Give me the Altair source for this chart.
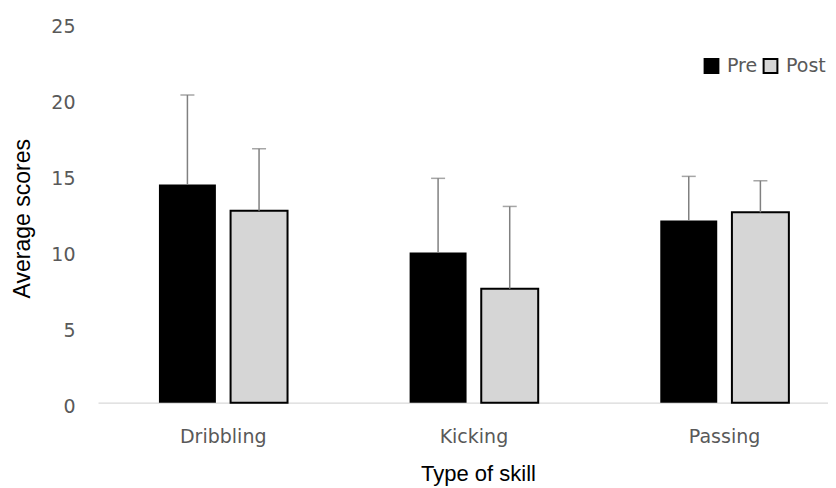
import altair as alt
import pandas as pd

# ---- data ----
skills = ["Dribbling", "Kicking", "Passing"]
groups = ["Pre", "Post"]
pre_means = [14.38, 9.90, 12.01]
post_means = [12.65, 7.51, 12.54]
pre_upper = [20.27, 14.78, 14.91]   # top of error bar (mean + SD)
post_upper = [16.73, 12.93, 14.62]
y_ticks = [0, 5, 10, 15, 20, 25]

rows = []
for i, s in enumerate(skills):
    rows.append({"skill": s, "group": "Pre", "mean": pre_means[i], "upper": pre_upper[i]})
    rows.append({"skill": s, "group": "Post", "mean": post_means[i], "upper": post_upper[i]})
df = pd.DataFrame(rows)

LABEL_FONT = "DejaVu Sans"
TITLE_FONT = "Liberation Sans"
LABEL_COLOR = "#595959"

x_enc = alt.X(
    "skill:N",
    sort=skills,
    scale=alt.Scale(paddingInner=0.487, paddingOuter=0.1996, align=0.609),
    axis=alt.Axis(
        title="Type of skill",
        titleFont=TITLE_FONT, titleFontSize=22, titleColor="black", titleFontWeight="normal",
        titleX=380, titleY=78, titleBaseline="alphabetic", titleAnchor="start", titleAlign="center",
        labelFont=LABEL_FONT, labelFontSize=19, labelColor=LABEL_COLOR,
        labelAngle=0, labelBaseline="alphabetic", labelPadding=40,
        ticks=False, tickSize=0, domainColor="#d9d9d9", domainWidth=1.3, grid=False,
    ),
)
xo_enc = alt.XOffset("group:N", sort=groups,
                     scale=alt.Scale(paddingInner=0.205, paddingOuter=0))
y_scale = alt.Scale(domain=[0, 25], nice=False)

bars = alt.Chart(df).mark_bar(stroke="black").encode(
    x=x_enc,
    xOffset=xo_enc,
    y=alt.Y(
        "mean:Q",
        scale=y_scale,
        axis=alt.Axis(
            title="Average scores", values=y_ticks,
            titleFont=TITLE_FONT, titleFontSize=23, titleColor="black", titleFontWeight="normal",
            titleX=-68.5, titleY=195, titleBaseline="alphabetic", titleAngle=-90, titleAlign="center",
            titleAnchor="start",
            labelFont=LABEL_FONT, labelFontSize=19, labelColor=LABEL_COLOR,
            labelPadding=23, labelOffset=3.5,
            domain=False, ticks=False, tickSize=0, grid=False,
        ),
    ),
    fill=alt.Fill(
        "group:N",
        sort=groups,
        scale=alt.Scale(domain=groups, range=["black", "#d6d6d6"]),
        legend=alt.Legend(
            title=None, orient="none", legendX=604, legendY=33, direction="horizontal",
            gridAlign="each",
            symbolType="square", symbolSize=190, symbolStrokeColor="black", symbolStrokeWidth=2,
            labelFont=LABEL_FONT, labelFontSize=19, labelColor=LABEL_COLOR,
            labelOffset=6, columnPadding=1, padding=0,
        ),
    ),
    strokeWidth=alt.condition(alt.datum.group == "Post", alt.value(2), alt.value(0)),
)

err = alt.Chart(df).mark_rule(color="#808080", strokeWidth=1.5).encode(
    x=alt.X("skill:N", sort=skills),
    xOffset=alt.XOffset("group:N", sort=groups),
    y=alt.Y("mean:Q", scale=y_scale),
    y2="upper:Q",
)

caps = alt.Chart(df).mark_tick(color="#808080", thickness=1.5, size=14).encode(
    x=alt.X("skill:N", sort=skills),
    xOffset=alt.XOffset("group:N", sort=groups),
    y=alt.Y("upper:Q", scale=y_scale),
)

chart = alt.layer(bars, err, caps).properties(
    width=730,
    height=379.5,
    autosize=alt.AutoSizeParams(type="none"),
    padding={"left": 90, "top": 15.2, "right": 0, "bottom": 84.3},
    background="white",
).configure_view(stroke=None)

chart.save("out.html", embed_options={"renderer": "svg", "actions": False})
